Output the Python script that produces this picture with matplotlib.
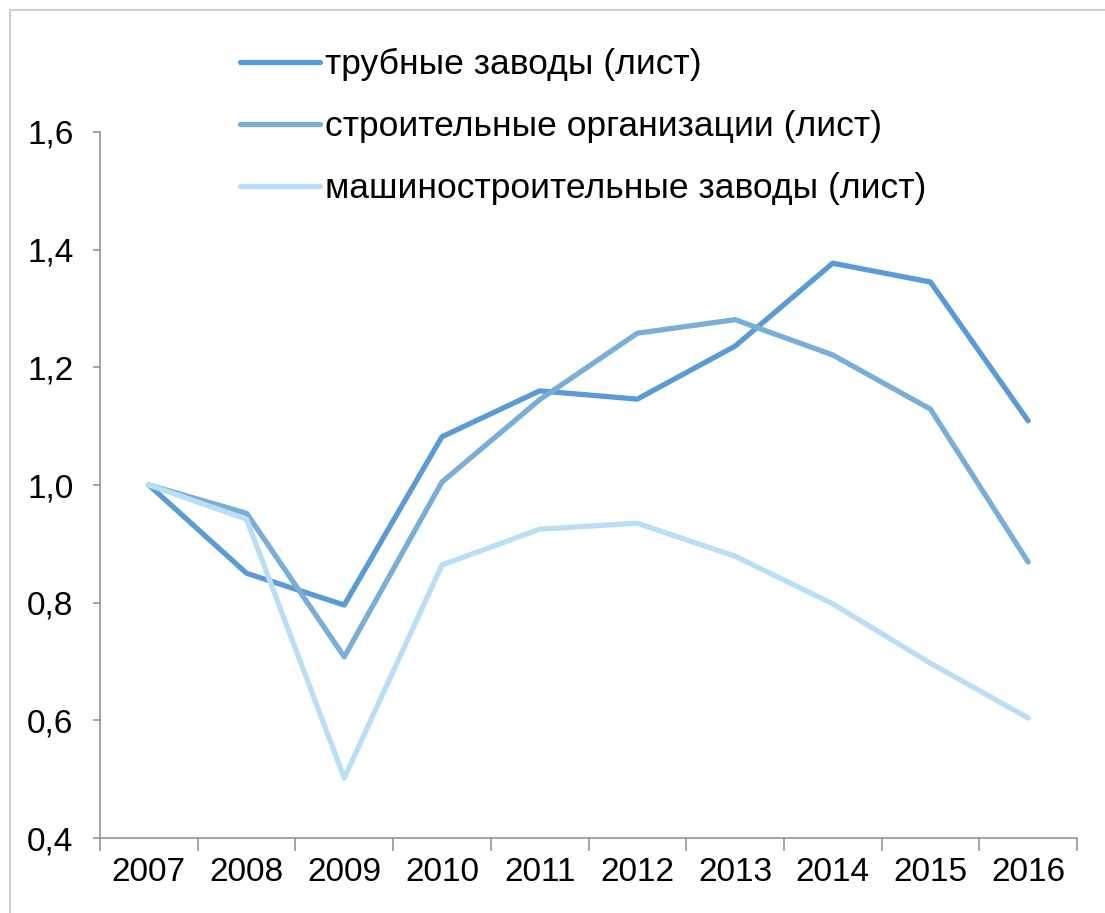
import matplotlib
matplotlib.use("Agg")
import matplotlib.pyplot as plt
from matplotlib.patches import Rectangle
from matplotlib.ticker import FixedLocator, FuncFormatter

plt.rcParams["font.family"] = ["Liberation Sans", "DejaVu Sans"]

years = ["2007", "2008", "2009", "2010", "2011", "2012", "2013", "2014", "2015", "2016"]
pipe_plants = [1.00, 0.850, 0.796, 1.082, 1.160, 1.146, 1.236, 1.377, 1.345, 1.109]
construction = [1.00, 0.952, 0.708, 1.005, 1.145, 1.258, 1.281, 1.221, 1.129, 0.869]
machine_plants = [1.00, 0.942, 0.502, 0.864, 0.925, 0.935, 0.879, 0.798, 0.697, 0.604]

series_labels = [
    "трубные заводы (лист)",
    "строительные организации (лист)",
    "машиностроительные заводы (лист)",
]
series_colors = ["#5B9BD5", "#78AED7", "#B9DFF6"]

fig = plt.figure(figsize=(11.05, 9.13), dpi=100)
ax = fig.add_axes([100 / 1105, 1 - 838 / 913, 977 / 1105, (838 - 132) / 913])

# light grey frame round the whole chart
fig.patches.append(Rectangle((10 / 1105, -0.1), 1.2, 1 - 10 / 913 + 0.1,
                             transform=fig.transFigure, fill=False,
                             edgecolor="#d0d0d0", linewidth=1.5))

x = list(range(len(years)))
for vals, lab, col in zip([pipe_plants, construction, machine_plants],
                          series_labels, series_colors):
    ax.plot(x, vals, color=col, linewidth=3.8, label=lab,
            solid_joinstyle="round", solid_capstyle="round")

ax.set_xlim(-0.5, len(years) - 0.5)
ax.set_ylim(0.4, 1.6)
ax.set_yticks([0.4, 0.6, 0.8, 1.0, 1.2, 1.4, 1.6])
ax.yaxis.set_major_formatter(FuncFormatter(lambda v, _: f"{v:.1f}".replace(".", ",")))

ax.xaxis.set_major_locator(FixedLocator([i - 0.5 for i in range(len(years) + 1)]))
ax.xaxis.set_minor_locator(FixedLocator(x))
ax.set_xticklabels([])
ax.set_xticklabels(years, minor=True)

grey = "#8c8c8c"
for s in ["top", "right"]:
    ax.spines[s].set_visible(False)
for s in ["left", "bottom"]:
    ax.spines[s].set_color(grey)
    ax.spines[s].set_linewidth(1.1)

ax.tick_params(axis="x", which="major", length=9, width=1.1, color=grey)
ax.tick_params(axis="x", which="minor", length=0, pad=14, labelsize=24)
ax.tick_params(axis="y", length=5, width=1.1, color=grey, pad=14, labelsize=24)

ax.legend(loc="upper left", bbox_to_anchor=(140 / 977, 1 + 84 / 706),
          frameon=False, fontsize=25.5, handlelength=2.25, handletextpad=0.15,
          labelspacing=0.82, borderaxespad=0, borderpad=0)

fig.savefig("out.png", dpi=100)
